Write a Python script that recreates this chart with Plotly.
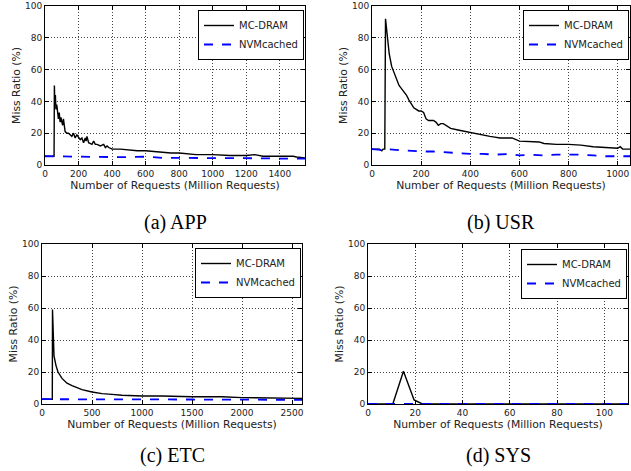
import plotly.graph_objects as go

# ---------------- data ----------------
app_dram_x = [0, 50, 54, 56, 58, 62, 65, 70, 75, 80, 85, 90, 95, 100, 105, 110, 115, 120, 130, 140, 150, 160, 170, 180, 190, 200, 210, 220, 230, 240, 245, 250, 260, 280, 290, 300, 310, 330, 350, 360, 370, 380, 400, 450, 500, 550, 600, 650, 700, 750, 800, 850, 900, 1000, 1100, 1200, 1250, 1300, 1400, 1480, 1500, 1550]
app_dram_y = [5.5, 5.5, 5.5, 50, 40, 44, 35, 38, 31, 29, 33, 27, 30, 27, 25, 29, 23, 21, 20, 20, 19, 18, 20, 17, 19, 17, 16, 17, 14, 17, 15, 18, 14, 13, 15, 13, 13, 12, 13, 11, 12, 11, 10, 10, 9.5, 9, 9, 8.5, 8, 7.5, 7.5, 7, 6.5, 6.5, 6, 6, 6.5, 5.5, 5.5, 5.5, 5, 4.5]
app_nvm_x = [0, 100, 200, 300, 400, 500, 600, 700, 800, 900, 1000, 1100, 1200, 1300, 1400, 1500, 1550]
app_nvm_y = [5.5, 5.3, 5.5, 5.2, 5, 5, 5.2, 4.5, 4.5, 4.3, 4.5, 4.3, 4.2, 4.2, 4, 4.3, 4]

usr_dram_x = [0, 30, 40, 45, 50, 52, 55, 60, 70, 80, 90, 100, 110, 120, 130, 140, 150, 160, 170, 180, 190, 200, 210, 220, 230, 250, 260, 270, 280, 290, 300, 320, 350, 380, 400, 420, 450, 480, 500, 520, 550, 570, 600, 650, 680, 700, 750, 800, 850, 900, 950, 1000, 1010, 1020, 1050]
usr_dram_y = [10, 10, 9, 10, 10, 10, 92, 85, 70, 62, 58, 54, 50, 48, 46, 44, 41, 38, 36, 35, 34, 34, 33, 29, 28, 28, 27, 25, 26, 26, 25, 23, 22, 21, 20.5, 20, 19, 18, 17.5, 17, 17, 17, 15, 14.5, 14.5, 13.5, 13, 13, 12.5, 11.5, 11, 10.5, 11.5, 10, 10]
usr_nvm_x = [0, 40, 50, 100, 150, 200, 250, 300, 350, 400, 450, 500, 560, 600, 650, 700, 750, 800, 850, 900, 950, 1000, 1050]
usr_nvm_y = [10, 9.5, 10, 9.5, 9, 8.5, 8.5, 8, 7.5, 7, 7, 6.5, 7, 6, 6.5, 6, 6.5, 6.5, 6.5, 6, 5.5, 5.5, 5.5]

etc_dram_x = [0, 100, 103, 105, 110, 120, 140, 160, 200, 250, 300, 350, 400, 500, 600, 700, 800, 1000, 1200, 1500, 1800, 2000, 2200, 2600]
etc_dram_y = [3, 3, 3, 59, 40, 30, 24, 20, 16, 13, 11.5, 10, 9, 7.5, 6.5, 6, 5.5, 5, 5, 4.5, 4.5, 4, 3.7, 3.5]
etc_nvm_x = [0, 500, 1000, 1500, 2000, 2600]
etc_nvm_y = [3, 2.8, 2.6, 2.8, 2.7, 2.6]

sys_dram_x = [0, 10.5, 15, 19.5, 23, 110]
sys_dram_y = [0, 0, 20.5, 2.5, 0, 0]
sys_nvm_x = [0, 110]
sys_nvm_y = [0, 0]

panels = [
    dict(name="(a) APP", dx=app_dram_x, dy=app_dram_y, nx=app_nvm_x, ny=app_nvm_y,
         xr=[0, 1550], dt=200, px=(45, 305), py=(6, 165), leg=(304, 10)),
    dict(name="(b) USR", dx=usr_dram_x, dy=usr_dram_y, nx=usr_nvm_x, ny=usr_nvm_y,
         xr=[0, 1050], dt=200, px=(372, 630), py=(6, 165), leg=(629, 10)),
    dict(name="(c) ETC", dx=etc_dram_x, dy=etc_dram_y, nx=etc_nvm_x, ny=etc_nvm_y,
         xr=[0, 2600], dt=500, px=(42, 302), py=(244, 404), leg=(301, 248)),
    dict(name="(d) SYS", dx=sys_dram_x, dy=sys_dram_y, nx=sys_nvm_x, ny=sys_nvm_y,
         xr=[0, 110], dt=20, px=(368, 628), py=(244, 404), leg=(627, 249)),
]

W, H = 631, 471
fig = go.Figure()
tickfont = dict(family="DejaVu Sans", size=9, color="#222")
titlefont = dict(family="DejaVu Sans", size=10.8, color="#222")

for i, p in enumerate(panels):
    n = "" if i == 0 else str(i + 1)
    lg = "legend" + n
    fig.add_trace(go.Scatter(x=p["dx"], y=p["dy"], mode="lines", name="MC-DRAM",
                             line=dict(color="black", width=1.4),
                             xaxis="x" + n, yaxis="y" + n, legend=lg))
    fig.add_trace(go.Scatter(x=p["nx"], y=p["ny"], mode="lines", name="NVMcached",
                             line=dict(color="#0000ff", width=1.8, dash="dash"),
                             xaxis="x" + n, yaxis="y" + n, legend=lg))
    xd = [p["px"][0] / W, p["px"][1] / W]
    yd = [1 - p["py"][1] / H, 1 - p["py"][0] / H]
    common = dict(showline=True, linecolor="black", linewidth=1, mirror="ticks",
                  ticks="inside", ticklen=4, tickcolor="black", zeroline=False,
                  showgrid=True, gridcolor="#444", griddash="1px,2px", gridwidth=1,
                  tickfont=tickfont, automargin=False)
    fig.layout["xaxis" + n] = dict(common, domain=xd, range=p["xr"], dtick=p["dt"],
                                   tick0=0, anchor="y" + n,
                                   title=dict(text="Number of Requests (Million Requests)",
                                              font=titlefont, standoff=1))
    fig.layout["yaxis" + n] = dict(common, domain=yd, range=[0, 100], dtick=20,
                                   anchor="x" + n,
                                   title=dict(text="Miss Ratio (%)", font=titlefont,
                                              standoff=2))
    fig.layout[lg] = dict(x=p["leg"][0] / W, y=1 - p["leg"][1] / H, xanchor="right",
                          yanchor="top", bordercolor="black", borderwidth=1,
                          bgcolor="white", font=dict(family="DejaVu Sans", size=10, color="#222"),
                          tracegroupgap=0, itemwidth=30)
    cx = (p["px"][0] + p["px"][1]) / 2 / W
    cy = 1 - (222 if i < 2 else 455) / H
    fig.add_annotation(text=p["name"], x=cx, y=cy, xref="paper", yref="paper",
                       showarrow=False, xanchor="center", yanchor="middle",
                       font=dict(family="Liberation Serif", size=20, color="black"))

fig.update_layout(width=W, height=H, margin=dict(l=0, r=0, t=0, b=0),
                  plot_bgcolor="white", paper_bgcolor="white", showlegend=True)
fig.write_html("out.html", config={"displayModeBar": False},
               post_script="document.body.style.margin='0';document.body.style.overflow='hidden';")
